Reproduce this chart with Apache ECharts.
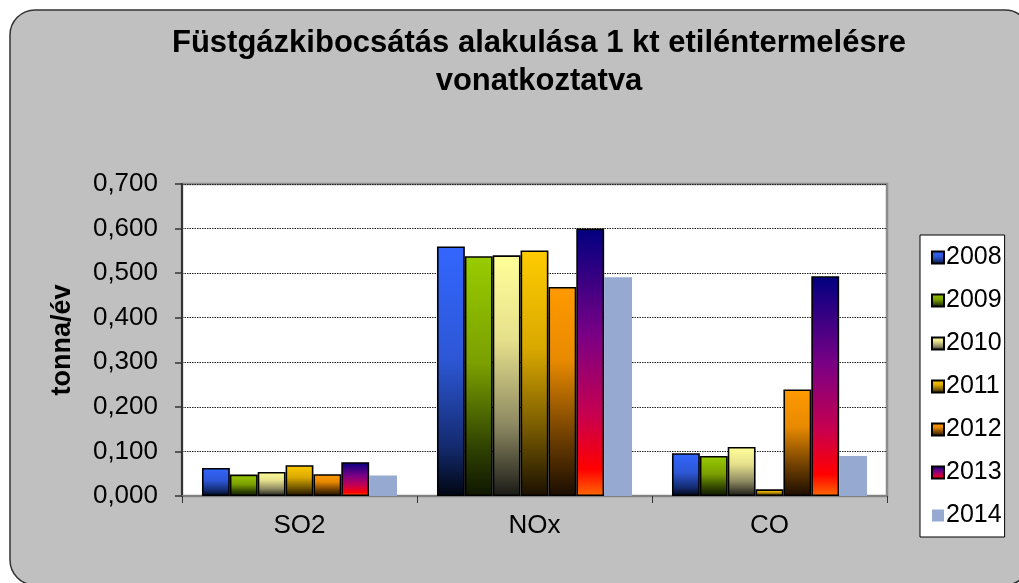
<!DOCTYPE html>
<html>
<head>
<meta charset="utf-8">
<script src="https://cdn.jsdelivr.net/npm/echarts@6/dist/echarts.min.js"></script>
<style>
  html, body { margin: 0; padding: 0; background: #ffffff; }
  #chart { width: 1019px; height: 583px; }
</style>
</head>
<body>
<div id="chart"></div>
<script>
// ---- data ----
const categories = ['SO2', 'NOx', 'CO'];
const years = ['2008', '2009', '2010', '2011', '2012', '2013', '2014'];
const s2008 = [0.063, 0.560, 0.096];
const s2009 = [0.048, 0.538, 0.090];
const s2010 = [0.054, 0.540, 0.110];
const s2011 = [0.069, 0.551, 0.015];
const s2012 = [0.049, 0.469, 0.239];
const s2013 = [0.076, 0.600, 0.493];
const s2014 = [0.046, 0.491, 0.090];
const yTicks = [0, 0.1, 0.2, 0.3, 0.4, 0.5, 0.6, 0.7];
const titleText = 'Füstgázkibocsátás alakulása 1 kt etiléntermelésre\nvonatkoztatva';
const yName = 'tonna/év';

const seriesValues = [s2008, s2009, s2010, s2011, s2012, s2013, s2014];

function grad(stops) {
  return new echarts.graphic.LinearGradient(0, 0, 0, 1,
    stops.map(s => ({ offset: s[0], color: s[1] })));
}
const fills = [
  grad([[0, '#3366FF'], [0.45, '#2d57d6'], [0.8, '#142b70'], [1, '#000510']]),
  grad([[0, '#99CC00'], [0.45, '#7a9f00'], [0.8, '#2f4200'], [1, '#0e1600']]),
  grad([[0, '#FFFF99'], [0.35, '#e6e08c'], [0.7, '#8e8a62'], [1, '#1a1a16']]),
  grad([[0, '#FFCC00'], [0.4, '#d9a800'], [0.7, '#7f6000'], [1, '#1a1000']]),
  grad([[0, '#FF9900'], [0.35, '#e88a00'], [0.7, '#744200'], [1, '#1a0c00']]),
  grad([[0, '#000080'], [0.4, '#7a0085'], [0.7, '#c8004e'], [0.9, '#ff0000'], [1, '#ff6a00']]),
  '#95A9D1'
];

const series = years.map((y, i) => ({
  name: y,
  type: 'bar',
  data: seriesValues[i],
  barGap: '0%',
  barCategoryGap: '17%',
  itemStyle: {
    color: fills[i],
    borderColor: '#000',
    borderWidth: i === 6 ? 0 : 1.6
  },
  emphasis: { disabled: true }
}));

const FONT = 'Liberation Sans, Arial, sans-serif';
const chart = echarts.init(document.getElementById('chart'), null, { renderer: 'canvas' });
chart.setOption({
  animation: false,
  backgroundColor: '#ffffff',
  graphic: [{
    type: 'rect',
    z: -10,
    silent: true,
    shape: { x: 10, y: 10, width: 1020, height: 575, r: 25 },
    style: { fill: '#C0C0C0', stroke: '#333333', lineWidth: 1.5 }
  }],
  title: {
    text: titleText,
    left: 534,
    top: 19,
    textAlign: 'center',
    textStyle: {
      fontFamily: FONT,
      fontSize: 31,
      fontWeight: 'bold',
      lineHeight: 38,
      color: '#000'
    }
  },
  legend: {
    orient: 'vertical',
    left: 920,
    top: 235,
    padding: [10, 3, 9, 11],
    itemGap: 18,
    itemWidth: 12,
    itemHeight: 12,
    icon: 'rect',
    backgroundColor: '#ffffff',
    borderColor: '#000',
    borderWidth: 1,
    borderRadius: 0,
    textStyle: {
      fontFamily: FONT,
      fontSize: 25,
      color: '#000',
      padding: [0, 0, 0, -3]
    },
    data: years
  },
  grid: {
    left: 182,
    right: 132,
    top: 184,
    bottom: 87,
    show: true,
    backgroundColor: '#ffffff',
    borderColor: '#8c8c8c',
    borderWidth: 2.5
  },
  xAxis: {
    type: 'category',
    data: categories,
    axisLine: { show: true, lineStyle: { color: '#808080', width: 2 } },
    axisTick: { show: true, alignWithLabel: false, length: 7, lineStyle: { color: '#333', width: 1 } },
    axisLabel: {
      margin: 17,
      fontFamily: FONT,
      fontSize: 26,
      color: '#000'
    },
    splitLine: { show: false }
  },
  yAxis: {
    type: 'value',
    min: 0,
    max: 0.7,
    interval: 0.1,
    name: yName,
    nameLocation: 'middle',
    nameGap: 106,
    nameRotate: 90,
    nameTextStyle: {
      fontFamily: FONT,
      fontSize: 27,
      fontWeight: 'bold',
      color: '#000'
    },
    axisLine: { show: true, lineStyle: { color: '#333', width: 2 } },
    axisTick: { show: true, length: 7, lineStyle: { color: '#333', width: 1.5 } },
    axisLabel: {
      margin: 24,
      fontFamily: FONT,
      fontSize: 26,
      color: '#000',
      formatter: v => yTicks.some(t => Math.abs(t - v) < 1e-9) ? v.toFixed(3).replace('.', ',') : ''
    },
    splitLine: { show: true, lineStyle: { color: '#222', width: 1, type: [1.5, 1] } }
  },
  series: series
});
</script>
</body>
</html>
